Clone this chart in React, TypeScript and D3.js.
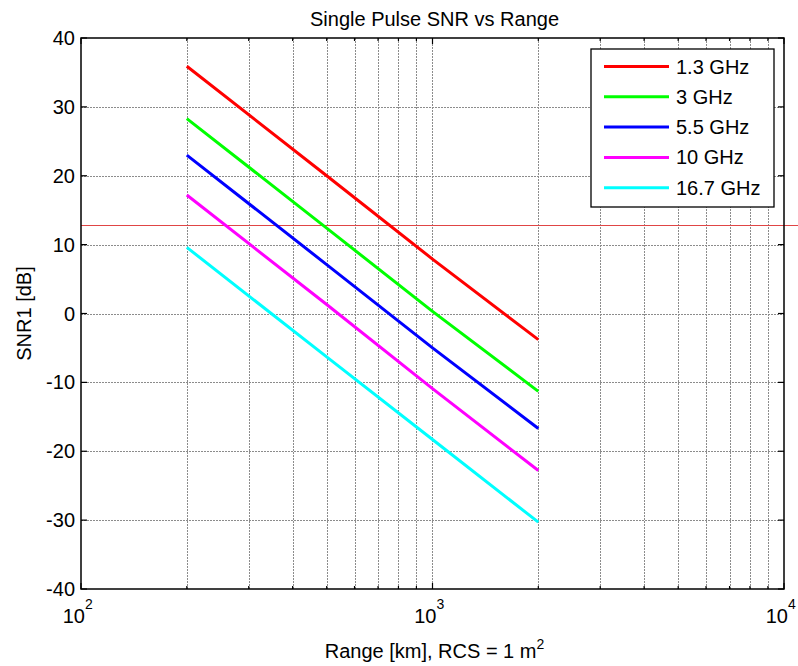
import React from 'react';
import * as d3 from 'd3';

// ranges, km
const rangeKm = [200, 500, 1000, 2000];

const snr13 = [35.9, 20.0, 7.9, -3.8];
const snr30 = [28.3, 12.4, 0.3, -11.3];
const snr55 = [23.0, 7.1, -5.0, -16.7];
const snr100 = [17.2, 1.3, -10.9, -22.8];
const snr167 = [9.6, -6.3, -18.3, -30.3];

const seriesNames = ['1.3 GHz', '3 GHz', '5.5 GHz', '10 GHz', '16.7 GHz'];
const seriesColors = ['#ff0000', '#00ff00', '#0000ff', '#ff00ff', '#00ffff'];
const seriesValues = [snr13, snr30, snr55, snr100, snr167];

// thin reference line that runs past the right edge
const thresholdRange = [100, 12000];
const thresholdSnr = 12.8;

const yTicks = [-40, -30, -20, -10, 0, 10, 20, 30, 40];
const xMajor = [100, 1000, 10000];
const xExponents = ['2', '3', '4'];

const W = 798;
const H = 666;
const FONT = '"Liberation Sans", Arial, Helvetica, sans-serif';

export default function App() {
  const left = 81;
  const right = 784;
  const top = 38;
  const bottom = 589;

  const x = d3.scaleLog().domain([100, 10000]).range([left, right]);
  const y = d3.scaleLinear().domain([-40, 40]).range([bottom, top]);

  const xMinor = [];
  for (const dec of [100, 1000]) {
    for (let k = 2; k <= 9; k++) xMinor.push(dec * k);
  }

  const line = d3.line()
    .x((d) => x(d[0]))
    .y((d) => y(d[1]));

  const legendX = 591;
  const legendY = 49;
  const legendW = 183;
  const legendH = 158;
  const rowH = 30.3;

  return (
    <div style={{ position: 'absolute', left: 0, top: 0 }}>
      <svg width={W} height={H} viewBox={`0 0 ${W} ${H}`} style={{ display: 'block', background: '#fff' }} fontFamily={FONT}>
        <rect x={0} y={0} width={W} height={H} fill="#fff" />

        {/* grid */}
        <g stroke="#8c8c8c" strokeWidth={1} strokeDasharray="2 1">
          {[...xMinor, 1000].map((v) => (
            <line key={`gx${v}`} x1={Math.round(x(v)) + 0.5} x2={Math.round(x(v)) + 0.5} y1={top} y2={bottom} />
          ))}
          {yTicks.slice(1, -1).map((v) => (
            <line key={`gy${v}`} x1={left} x2={right} y1={Math.round(y(v)) + 0.5} y2={Math.round(y(v)) + 0.5} />
          ))}
        </g>

        {/* reference line */}
        <line
          x1={x(thresholdRange[0])}
          x2={x(thresholdRange[1])}
          y1={Math.round(y(thresholdSnr)) + 0.5}
          y2={Math.round(y(thresholdSnr)) + 0.5}
          stroke="#e04545"
          strokeWidth={1}
        />

        {/* series */}
        {seriesValues.map((vals, i) => (
          <path
            key={seriesNames[i]}
            d={line(rangeKm.map((r, j) => [r, vals[j]]))}
            fill="none"
            stroke={seriesColors[i]}
            strokeWidth={3}
          />
        ))}

        {/* axes box */}
        <rect x={left} y={top} width={right - left} height={bottom - top} fill="none" stroke="#000" strokeWidth={1.5} />

        {/* ticks */}
        <g stroke="#000" strokeWidth={1.2}>
          {yTicks.map((v) => (
            <g key={`ty${v}`}>
              <line x1={left} x2={left + 6} y1={y(v)} y2={y(v)} />
              <line x1={right} x2={right - 6} y1={y(v)} y2={y(v)} />
            </g>
          ))}
          {xMajor.map((v) => (
            <g key={`tx${v}`}>
              <line x1={x(v)} x2={x(v)} y1={bottom} y2={bottom - 6} />
              <line x1={x(v)} x2={x(v)} y1={top} y2={top + 6} />
            </g>
          ))}
          {xMinor.map((v) => (
            <g key={`tm${v}`}>
              <line x1={x(v)} x2={x(v)} y1={bottom} y2={bottom - 3} />
              <line x1={x(v)} x2={x(v)} y1={top} y2={top + 3} />
            </g>
          ))}
        </g>

        {/* y tick labels */}
        {yTicks.map((v) => (
          <text key={`ly${v}`} x={left - 6} y={y(v) + 7} textAnchor="end" fontSize={20} fill="#000">
            {v}
          </text>
        ))}

        {/* x tick labels */}
        {xMajor.map((v, i) => (
          <g key={`lx${v}`}>
            <text x={x(v) + 4} y={623} textAnchor="end" fontSize={20} fill="#000">10</text>
            <text x={x(v) + 4} y={609} textAnchor="start" fontSize={14} fill="#000">{xExponents[i]}</text>
          </g>
        ))}

        {/* title and labels */}
        <text x={(left + right) / 2 + 2} y={26} textAnchor="middle" fontSize={20} fill="#000">
          Single Pulse SNR vs Range
        </text>
        <text x={(left + right) / 2 + 2} y={658} textAnchor="middle" fontSize={20} fill="#000">
          Range [km], RCS = 1 m<tspan dy={-9} fontSize={14}>2</tspan>
        </text>
        <text transform={`translate(31, ${(top + bottom) / 2}) rotate(-90)`} textAnchor="middle" fontSize={20} fill="#000">
          SNR1 [dB]
        </text>

        {/* legend */}
        <rect x={legendX} y={legendY} width={legendW} height={legendH} fill="#fff" stroke="#000" strokeWidth={1.3} />
        {seriesNames.map((name, i) => {
          const cy = legendY + 17.5 + i * rowH;
          return (
            <g key={`lg${name}`}>
              <line x1={legendX + 13} x2={legendX + 78} y1={cy} y2={cy} stroke={seriesColors[i]} strokeWidth={3} />
              <text x={legendX + 85} y={cy + 7} fontSize={20} fill="#000">{name}</text>
            </g>
          );
        })}
      </svg>
    </div>
  );
}
